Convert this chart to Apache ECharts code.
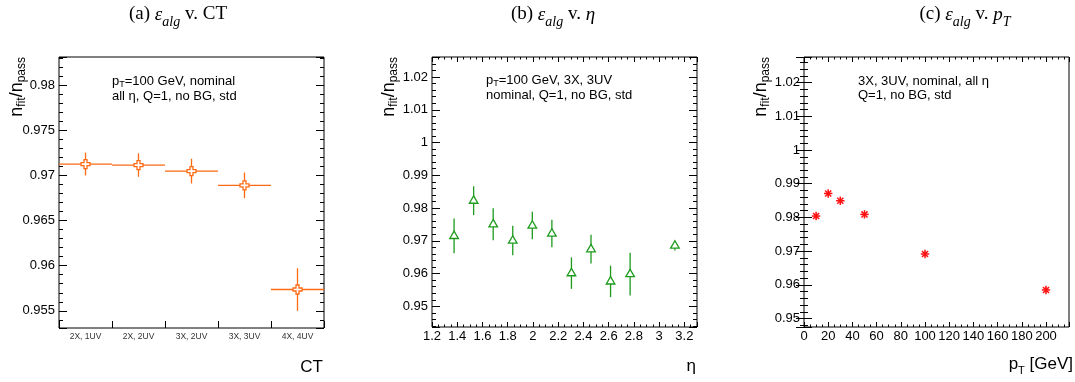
<!DOCTYPE html>
<html><head><meta charset="utf-8">
<script src="https://cdn.jsdelivr.net/npm/echarts@6/dist/echarts.min.js"></script>
<style>html,body{margin:0;padding:0;background:#fff}#c{width:1075px;height:382px}</style>
</head><body><div id="c"></div>
<script>
// ---- data ----
const ctCategories = ['2X, 1UV', '2X, 2UV', '3X, 2UV', '3X, 3UV', '4X, 4UV'];
const ctValues = [0.97125, 0.97114, 0.97047, 0.96889, 0.95736];
const ctErrors = [0.00127, 0.00130, 0.00137, 0.00142, 0.00236];

const etaX = [1.375, 1.53, 1.685, 1.84, 1.995, 2.15, 2.305, 2.46, 2.615, 2.77, 3.125];
const etaValues = [0.9715, 0.98226, 0.97506, 0.97009, 0.97465, 0.97222, 0.96014, 0.96745, 0.95761, 0.95984, 0.96856];
const etaErrors = [0.0053, 0.0044, 0.0049, 0.0045, 0.0042, 0.0042, 0.0048, 0.0044, 0.0048, 0.0065, 0.0015];

const ptX = [10, 20, 30, 50, 100, 200];
const ptValues = [0.98041, 0.98712, 0.98495, 0.98091, 0.96916, 0.95849];
const ptErrors = [0.0007, 0.0006, 0.0006, 0.0006, 0.0007, 0.0007];

// axis ranges and tick steps [min, max, major, minor]
const yRangeA = [0.9531, 0.9831, 0.005, 0.001];
const yRangeB = [0.9437, 1.0261, 0.01, 0.002];
const yRangeC = [0.9475, 1.0276, 0.01, 0.002];
const xRangeB = [1.2, 3.3, 0.2, 0.05];
const xRangeC = [0, 219, 20, 5];

const SANS = 'Liberation Sans, Arial, sans-serif';
const SERIF = 'Liberation Serif, Times New Roman, serif';
const ORANGE = '#ff6a13', GREEN = '#1d9b1d', RED = '#ff1010';

function onStep(v, step) { return Math.abs(v / step - Math.round(v / step)) < 1e-6; }
function fmt(step) { return v => onStep(v, step) ? String(+(+v).toFixed(4)) : ''; }

function valueAxes(kind, grid, r, majorLen, minorLen, positions) {
  const out = [];
  positions.forEach((pos, pi) => {
    [[r[2], majorLen, pi === 0], [r[3], minorLen, false]].forEach(([step, len, lab]) => {
      out.push({
        type: 'value', gridIndex: grid, position: pos, min: r[0], max: r[1],
        minInterval: step, maxInterval: step, splitNumber: Math.round((r[1] - r[0]) / step),
        axisLine: { show: false }, splitLine: { show: false },
        axisTick: { show: true, inside: true, length: len, lineStyle: { color: '#000', width: 1 } },
        axisLabel: lab ? { show: true, formatter: fmt(step), fontSize: 13, color: '#000', fontFamily: SANS, margin: kind === 'y' ? 4 : 3 } : { show: false }
      });
    });
  });
  return out;
}

const gridBase = { show: true, borderColor: '#000', borderWidth: 1, backgroundColor: 'transparent', containLabel: false, outerBoundsMode: 'none' };

const xAxes = [
  {
    type: 'category', gridIndex: 0, data: ctCategories, position: 'bottom',
    axisLine: { show: false }, splitLine: { show: false },
    axisTick: { show: true, inside: true, length: 7, alignWithLabel: false, lineStyle: { color: '#000' } },
    axisLabel: { interval: 0, fontSize: 8.5, color: '#333', fontFamily: SANS, margin: 4 }
  },
  ...valueAxes('x', 1, xRangeB, 5, 2.5, ['bottom', 'top']),
  ...valueAxes('x', 2, xRangeC, 5, 2.5, ['bottom', 'top'])
];
const yAxes = [
  ...valueAxes('y', 0, yRangeA, 8, 4, ['left', 'right']),
  ...valueAxes('y', 1, yRangeB, 8, 4, ['left', 'right']),
  ...valueAxes('y', 2, yRangeC, 8, 4, ['left', 'right'])
];

function crossShape(c, color) {
  const s = 4.5, t = 1.5;
  const pts = [[-t,-s],[t,-s],[t,-t],[s,-t],[s,t],[t,t],[t,s],[-t,s],[-t,t],[-s,t],[-s,-t],[-t,-t]].map(p => [c[0] + p[0], c[1] + p[1]]);
  return { type: 'polygon', shape: { points: pts }, style: { fill: '#fff', stroke: color, lineWidth: 1.3 } };
}
function triShape(c, color) {
  const pts = [[0, -4.8], [4.3, 2.6], [-4.3, 2.6]].map(p => [c[0] + p[0], c[1] + p[1]]);
  return { type: 'polygon', shape: { points: pts }, style: { fill: '#fff', stroke: color, lineWidth: 1.3 } };
}
function starShape(c, color) {
  const r = 4.2, d = r * 0.72, ch = [];
  [[r,0],[0,r],[d,d],[d,-d]].forEach(v => ch.push({ type: 'line', shape: { x1: c[0]-v[0], y1: c[1]-v[1], x2: c[0]+v[0], y2: c[1]+v[1] }, style: { stroke: color, lineWidth: 1.5 } }));
  return ch;
}

function errSeries(xi, yi, data, color, marker, horizBin) {
  return {
    type: 'custom', xAxisIndex: xi, yAxisIndex: yi, data: data, clip: false,
    renderItem: (params, api) => {
      const x = api.value(0), y = api.value(1), e = api.value(2);
      const c = api.coord([x, y]);
      const t = api.coord([x, y + e]);
      const b = api.coord([x, y - e]);
      const ch = [];
      ch.push({ type: 'line', shape: { x1: c[0], y1: t[1], x2: c[0], y2: b[1] }, style: { stroke: color, lineWidth: 1.3 } });
      if (horizBin) {
        const bw = api.size([1, 0])[0];
        ch.push({ type: 'line', shape: { x1: c[0] - bw / 2, y1: c[1], x2: c[0] + bw / 2, y2: c[1] }, style: { stroke: color, lineWidth: 1.3 } });
      }
      const m = marker(c, color);
      if (Array.isArray(m)) ch.push(...m); else ch.push(m);
      return { type: 'group', children: ch };
    }
  };
}

const series = [
  errSeries(0, 0, ctValues.map((v, i) => [i, v, ctErrors[i]]), ORANGE, crossShape, true),
  errSeries(1, 4, etaX.map((x, i) => [x, etaValues[i], etaErrors[i]]), GREEN, triShape, false),
  errSeries(5, 8, ptX.map((x, i) => [x, ptValues[i], ptErrors[i]]), RED, starShape, false)
];

// ---- text ----
const titleRich = {
  r: { fontFamily: SERIF, fontSize: 19, lineHeight: 24, verticalAlign: 'top', fill: '#000' },
  i: { fontFamily: SERIF, fontStyle: 'italic', fontSize: 19, lineHeight: 24, verticalAlign: 'top', fill: '#000' },
  s: { fontFamily: SERIF, fontStyle: 'italic', fontSize: 14, lineHeight: 10, verticalAlign: 'bottom', fill: '#000' }
};
const ytRich = {
  n: { fontFamily: SANS, fontSize: 18, lineHeight: 20, verticalAlign: 'top', fill: '#000' },
  s: { fontFamily: SANS, fontSize: 12, lineHeight: 9, verticalAlign: 'bottom', fill: '#000' }
};
const noteRich = {
  b: { fontFamily: SANS, fontSize: 13, lineHeight: 15, verticalAlign: 'top', fill: '#000' },
  s: { fontFamily: SANS, fontSize: 9, lineHeight: 8, verticalAlign: 'bottom', fill: '#000' }
};
const axRich = {
  b: { fontFamily: SANS, fontSize: 17, lineHeight: 20, verticalAlign: 'top', fill: '#000' },
  s: { fontFamily: SANS, fontSize: 11, lineHeight: 8, verticalAlign: 'bottom', fill: '#000' }
};
function txt(x, y, text, rich, align, rot) {
  return { type: 'text', x: x, y: y, rotation: rot || 0, silent: true,
    style: { text: text, rich: rich, align: align, verticalAlign: 'middle', fill: '#000' } };
}
const yTitle = '{n|n}{s|fit}{n|/n}{s|pass}';
const graphic = [
  txt(178, 17, '{r|(a) }{i|ε}{s|alg}{r| v. CT}', titleRich, 'center'),
  txt(553, 17, '{r|(b) }{i|ε}{s|alg}{r| v. }{i|η}', titleRich, 'center'),
  txt(965, 17, '{r|(c) }{i|ε}{s|alg}{r| v. }{i|p}{s|T}', titleRich, 'center'),
  txt(18, 57, yTitle, ytRich, 'right', Math.PI / 2),
  txt(390, 57, yTitle, ytRich, 'right', Math.PI / 2),
  txt(762, 57, yTitle, ytRich, 'right', Math.PI / 2),
  txt(112, 82, '{b|p}{s|T}{b|=100 GeV, nominal}', noteRich, 'left'),
  txt(112, 97, '{b|all η, Q=1, no BG, std}', noteRich, 'left'),
  txt(486, 81, '{b|p}{s|T}{b|=100 GeV, 3X, 3UV}', noteRich, 'left'),
  txt(486, 96, '{b|nominal, Q=1, no BG, std}', noteRich, 'left'),
  txt(858, 82, '{b|3X, 3UV, nominal, all η}', noteRich, 'left'),
  txt(858, 96, '{b|Q=1, no BG, std}', noteRich, 'left'),
  txt(323, 369, '{b|CT}', axRich, 'right'),
  txt(696, 368, '{b|η}', axRich, 'right'),
  txt(1073, 366, '{b|p}{s|T}{b| [GeV]}', axRich, 'right')
];

const chart = echarts.init(document.getElementById('c'), null, { renderer: 'canvas' });
chart.setOption({
  animation: false,
  backgroundColor: '#fff',
  grid: [
    Object.assign({ left: 59, top: 57, width: 265, height: 271 }, gridBase),
    Object.assign({ left: 432, top: 57, width: 265, height: 270 }, gridBase),
    Object.assign({ left: 804, top: 57, width: 265, height: 270 }, gridBase)
  ],
  xAxis: xAxes,
  yAxis: yAxes,
  series: series,
  graphic: graphic
});
</script></body></html>
